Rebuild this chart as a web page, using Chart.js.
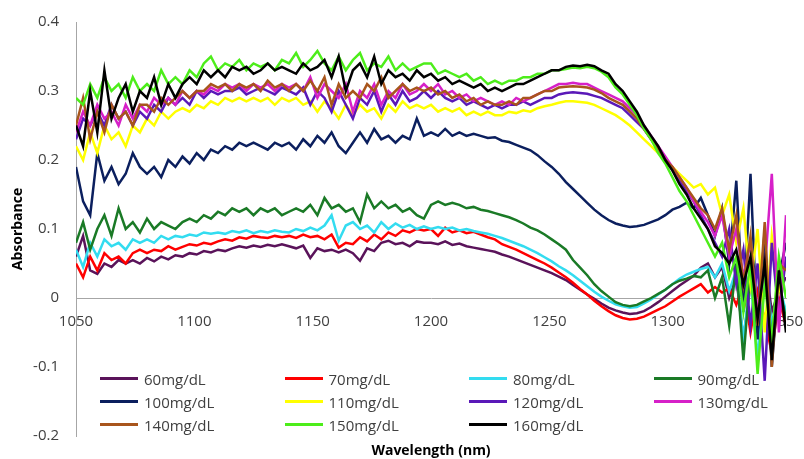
<!DOCTYPE html>
<html>
<head>
<meta charset="utf-8">
<script src="https://cdn.jsdelivr.net/npm/chart.js@4.4.1/dist/chart.umd.min.js"></script>
<style>
  body { margin: 0; background: #fff; }
  #wrap { position: relative; width: 804px; height: 459px; }
  #legend {
    position: absolute; left: 100px; top: 367px;
    display: grid; grid-template-columns: repeat(4, 184.5px); grid-auto-rows: 23px;
    font: 15px "Open Sans", sans-serif; color: #404040;
  }
  .item { display: flex; align-items: center; white-space: nowrap; }
  .swatch { width: 38px; height: 3px; margin-right: 6px; }
</style>
</head>
<body>
<div id="wrap">
  <canvas id="chart" width="804" height="459"></canvas>
  <div id="legend"></div>
</div>
<script>
// wavelength (nm), every 3 nm
const wavelengths = [
  1050, 1053, 1056, 1059, 1062, 1065, 1068, 1071, 1074, 1077,
  1080, 1083, 1086, 1089, 1092, 1095, 1098, 1101, 1104, 1107,
  1110, 1113, 1116, 1119, 1122, 1125, 1128, 1131, 1134, 1137,
  1140, 1143, 1146, 1149, 1152, 1155, 1158, 1161, 1164, 1167,
  1170, 1173, 1176, 1179, 1182, 1185, 1188, 1191, 1194, 1197,
  1200, 1203, 1206, 1209, 1212, 1215, 1218, 1221, 1224, 1227,
  1230, 1233, 1236, 1239, 1242, 1245, 1248, 1251, 1254, 1257,
  1260, 1263, 1266, 1269, 1272, 1275, 1278, 1281, 1284, 1287,
  1290, 1293, 1296, 1299, 1302, 1305, 1308, 1311, 1314, 1317,
  1320, 1323, 1326, 1329, 1332, 1335, 1338, 1341, 1344, 1347,
  1350
];

const abs60 = [
  0.06, 0.09, 0.04, 0.035, 0.05, 0.045, 0.055, 0.05, 0.055, 0.05,
  0.058, 0.053, 0.06, 0.056, 0.062, 0.06, 0.065, 0.063, 0.068, 0.066,
  0.07, 0.068, 0.072, 0.075, 0.073, 0.076, 0.074, 0.077, 0.075, 0.078,
  0.075, 0.072, 0.076, 0.058, 0.072, 0.068, 0.07, 0.066, 0.07, 0.065,
  0.054, 0.072, 0.068, 0.08, 0.083, 0.078, 0.08, 0.075, 0.082, 0.08,
  0.08, 0.078, 0.082, 0.077, 0.079, 0.075, 0.073, 0.071, 0.069, 0.067,
  0.063, 0.06, 0.056, 0.052, 0.048, 0.044, 0.04, 0.036, 0.031, 0.026,
  0.019, 0.012, 0.005, -0.001, -0.008, -0.014, -0.018, -0.021, -0.023, -0.022,
  -0.019, -0.013, -0.006, 0.002, 0.01, 0.018, 0.025, 0.032, 0.044, 0.05,
  0.03, 0.045, 0.0, 0.03, -0.06, 0.02, -0.03, 0.06, -0.02, 0.01,
  0.03
];

const abs70 = [
  0.05, 0.03, 0.06, 0.04, 0.065, 0.055, 0.06, 0.05, 0.065, 0.07,
  0.065, 0.07, 0.068, 0.075, 0.07, 0.074, 0.078, 0.076, 0.08, 0.078,
  0.082, 0.085, 0.083, 0.088, 0.086, 0.09, 0.088, 0.087, 0.09, 0.088,
  0.09, 0.087, 0.092, 0.088, 0.09, 0.085, 0.092, 0.073, 0.08, 0.078,
  0.088, 0.082, 0.092, 0.085, 0.095, 0.09, 0.098, 0.095, 0.1, 0.098,
  0.1, 0.09, 0.102, 0.095, 0.098, 0.094, 0.096, 0.092, 0.088, 0.085,
  0.078, 0.074, 0.07, 0.065, 0.06, 0.055, 0.05, 0.044, 0.037, 0.03,
  0.022, 0.013, 0.005, -0.004, -0.012, -0.019, -0.025, -0.029, -0.031, -0.03,
  -0.027, -0.022, -0.017, -0.012, -0.005, 0.002, 0.008, 0.014, 0.02, 0.008,
  0.016, 0.008, 0.014, -0.01, 0.02, -0.05, 0.01, -0.03, -0.08, 0.0,
  -0.04
];

const abs80 = [
  0.07, 0.045, 0.08, 0.06, 0.085, 0.075, 0.08, 0.07, 0.085, 0.08,
  0.085, 0.08, 0.09, 0.085, 0.09, 0.088, 0.092, 0.09, 0.095, 0.093,
  0.095, 0.093, 0.097, 0.095, 0.098, 0.094, 0.097, 0.095, 0.098, 0.096,
  0.095, 0.1, 0.097, 0.102, 0.098, 0.105, 0.12, 0.083, 0.105, 0.11,
  0.1, 0.105, 0.095, 0.11, 0.1, 0.108, 0.102, 0.106, 0.1, 0.104,
  0.1, 0.103, 0.1, 0.102, 0.098, 0.1, 0.097, 0.095, 0.093, 0.09,
  0.087, 0.083, 0.079, 0.075, 0.07, 0.065, 0.059, 0.053, 0.046, 0.04,
  0.033, 0.025, 0.017, 0.009, 0.002, -0.004, -0.009, -0.012, -0.014, -0.013,
  -0.008, -0.002, 0.005, 0.012, 0.02, 0.028, 0.034, 0.038, 0.042, 0.045,
  0.03, 0.05, 0.01, 0.04, -0.06, 0.03, -0.09, 0.05, -0.04, 0.02,
  -0.02
];

const abs90 = [
  0.08, 0.11, 0.07, 0.10, 0.12, 0.09, 0.13, 0.10, 0.11, 0.095,
  0.115, 0.10, 0.11, 0.105, 0.10, 0.11, 0.115, 0.11, 0.12, 0.115,
  0.125, 0.12, 0.13, 0.125, 0.13, 0.12, 0.13, 0.125, 0.13, 0.12,
  0.125, 0.13, 0.125, 0.135, 0.12, 0.145, 0.13, 0.135, 0.125, 0.13,
  0.11, 0.15, 0.13, 0.14, 0.13, 0.135, 0.125, 0.13, 0.12, 0.115,
  0.135, 0.14, 0.135, 0.138, 0.135, 0.13, 0.132, 0.128, 0.126, 0.123,
  0.12, 0.117, 0.113, 0.108, 0.102, 0.098, 0.092, 0.085, 0.078, 0.07,
  0.055, 0.044, 0.033, 0.02, 0.01, 0.002, -0.006, -0.01, -0.012, -0.01,
  -0.005, 0.0, 0.006, 0.012, 0.02, 0.025, 0.028, 0.032, 0.03, 0.04,
  0.0, 0.03, -0.04, 0.05, -0.09, 0.04, -0.05, 0.08, -0.07, 0.02,
  -0.03
];

const abs100 = [
  0.19, 0.14, 0.12, 0.21, 0.17, 0.19, 0.165, 0.18, 0.21, 0.19,
  0.18, 0.19, 0.175, 0.20, 0.19, 0.205, 0.195, 0.21, 0.20, 0.215,
  0.21, 0.22, 0.215, 0.225, 0.22, 0.225, 0.22, 0.215, 0.225, 0.22,
  0.225, 0.215, 0.23, 0.22, 0.235, 0.225, 0.24, 0.22, 0.21, 0.225,
  0.24, 0.225, 0.245, 0.23, 0.235, 0.225, 0.235, 0.23, 0.26, 0.235,
  0.24, 0.235, 0.245, 0.235, 0.24, 0.235, 0.238, 0.235, 0.232, 0.233,
  0.228, 0.226, 0.222, 0.218, 0.214, 0.207, 0.198, 0.19, 0.18, 0.168,
  0.158, 0.148, 0.138, 0.128, 0.12, 0.113, 0.108, 0.105, 0.103, 0.104,
  0.106, 0.11, 0.114, 0.12, 0.128, 0.132, 0.138, 0.13, 0.145, 0.12,
  0.09, 0.13, 0.05, 0.17, -0.02, 0.18, -0.06, 0.10, -0.10, 0.03,
  0.08
];

const abs110 = [
  0.22, 0.20, 0.24, 0.21, 0.25, 0.23, 0.24, 0.22, 0.25, 0.24,
  0.26, 0.25, 0.27, 0.26, 0.27, 0.275, 0.27, 0.28, 0.275, 0.285,
  0.28, 0.29, 0.285, 0.29, 0.285, 0.29, 0.285, 0.29, 0.28, 0.29,
  0.285, 0.29, 0.28, 0.285, 0.27, 0.285, 0.275, 0.26, 0.28, 0.265,
  0.28, 0.27, 0.275, 0.26, 0.28, 0.27, 0.285, 0.275, 0.28, 0.275,
  0.28, 0.27, 0.275, 0.27, 0.275, 0.265, 0.27, 0.265, 0.27, 0.265,
  0.265, 0.27, 0.268, 0.272, 0.27, 0.275, 0.278, 0.28, 0.283, 0.285,
  0.285, 0.284, 0.283, 0.28, 0.275, 0.27, 0.265, 0.258, 0.25, 0.24,
  0.23, 0.22, 0.21, 0.20, 0.19, 0.18, 0.17, 0.16, 0.165, 0.15,
  0.16, 0.12, 0.15, 0.08, 0.13, 0.02, 0.10, -0.05, 0.09, 0.01,
  0.05
];

const abs120 = [
  0.23, 0.26, 0.25, 0.27, 0.25, 0.28, 0.26, 0.27, 0.25, 0.27,
  0.26, 0.28, 0.27, 0.29, 0.28, 0.29, 0.28, 0.30, 0.29, 0.30,
  0.295, 0.30, 0.30, 0.305, 0.295, 0.30, 0.305, 0.30, 0.295, 0.305,
  0.30, 0.295, 0.305, 0.28, 0.30, 0.29, 0.27, 0.30, 0.28, 0.26,
  0.29, 0.28, 0.30, 0.27, 0.295, 0.28, 0.30, 0.285, 0.29, 0.30,
  0.29, 0.30, 0.29, 0.285, 0.29, 0.28, 0.285, 0.28, 0.275, 0.28,
  0.275, 0.28, 0.28, 0.285, 0.28, 0.285, 0.29, 0.29, 0.295, 0.297,
  0.298, 0.297, 0.296, 0.293, 0.29, 0.285, 0.28, 0.275, 0.265, 0.255,
  0.245, 0.23, 0.215, 0.20, 0.185, 0.17, 0.155, 0.14, 0.12, 0.10,
  0.08, 0.06, 0.10, 0.02, 0.07, -0.04, 0.05, -0.12, 0.08, -0.03,
  0.06
];

const abs130 = [
  0.24, 0.27, 0.25, 0.28, 0.26, 0.27, 0.25, 0.28, 0.26, 0.28,
  0.27, 0.29, 0.28, 0.29, 0.28, 0.30, 0.29, 0.30, 0.295, 0.305,
  0.30, 0.31, 0.305, 0.31, 0.30, 0.31, 0.305, 0.31, 0.30, 0.31,
  0.305, 0.31, 0.30, 0.32, 0.29, 0.31, 0.30, 0.29, 0.31, 0.27,
  0.30, 0.29, 0.31, 0.28, 0.30, 0.29, 0.31, 0.295, 0.30, 0.31,
  0.30, 0.31, 0.295, 0.30, 0.29, 0.295, 0.285, 0.29, 0.285, 0.28,
  0.285, 0.28, 0.29, 0.285, 0.29, 0.295, 0.30, 0.305, 0.31, 0.31,
  0.312, 0.31, 0.31, 0.305, 0.30, 0.295, 0.29, 0.285, 0.275, 0.265,
  0.25, 0.235, 0.22, 0.205, 0.19, 0.175, 0.16, 0.14, 0.125, 0.11,
  0.09, 0.12, 0.06, 0.10, 0.03, 0.08, -0.02, 0.04, 0.18, -0.05,
  0.12
];

const abs140 = [
  0.25, 0.29, 0.23, 0.27, 0.24, 0.28, 0.26, 0.27, 0.25, 0.28,
  0.28, 0.27, 0.29, 0.28, 0.29, 0.30, 0.29, 0.30, 0.30, 0.31,
  0.305, 0.31, 0.30, 0.31, 0.305, 0.31, 0.30, 0.315, 0.305, 0.31,
  0.30, 0.31, 0.30, 0.315, 0.30, 0.32, 0.28, 0.31, 0.29, 0.30,
  0.29, 0.31, 0.30, 0.32, 0.29, 0.30, 0.31, 0.30, 0.305, 0.30,
  0.305, 0.295, 0.30, 0.29, 0.295, 0.285, 0.29, 0.28, 0.285, 0.28,
  0.28, 0.285, 0.28, 0.29, 0.29, 0.295, 0.30, 0.30, 0.305, 0.306,
  0.307, 0.306, 0.305, 0.302, 0.297, 0.29, 0.285, 0.28, 0.27, 0.26,
  0.245, 0.23, 0.215, 0.20, 0.19, 0.175, 0.16, 0.145, 0.13, 0.12,
  0.10, 0.13, 0.07, 0.12, 0.02, 0.09, -0.04, 0.11, -0.10, 0.05,
  0.04
];

const abs150 = [
  0.29, 0.28, 0.31, 0.29, 0.32, 0.30, 0.31, 0.29, 0.32, 0.30,
  0.31, 0.30, 0.33, 0.31, 0.32, 0.31, 0.33, 0.32, 0.34, 0.35,
  0.33, 0.34, 0.335, 0.345, 0.33, 0.34, 0.335, 0.34, 0.33, 0.345,
  0.34, 0.355, 0.335, 0.345, 0.358, 0.34, 0.33, 0.35, 0.33, 0.345,
  0.355, 0.33, 0.34, 0.335, 0.35, 0.33, 0.34, 0.33, 0.335, 0.34,
  0.34, 0.325, 0.33, 0.325, 0.32, 0.325, 0.315, 0.32, 0.31, 0.315,
  0.31, 0.315, 0.315, 0.32, 0.32, 0.325, 0.325, 0.33, 0.33, 0.332,
  0.334, 0.333, 0.335, 0.333, 0.328, 0.32, 0.305, 0.295, 0.28, 0.265,
  0.245, 0.23, 0.21, 0.195, 0.175, 0.155, 0.14, 0.12, 0.10, 0.08,
  0.06, 0.08, 0.03, 0.06, -0.02, 0.05, -0.11, 0.02, -0.06, 0.06,
  0.0
];

const abs160 = [
  0.25, 0.22, 0.30, 0.24, 0.33, 0.26, 0.29, 0.31, 0.27, 0.30,
  0.29, 0.32, 0.28, 0.31, 0.29, 0.31, 0.32, 0.31, 0.33, 0.32,
  0.33, 0.32, 0.335, 0.33, 0.335, 0.325, 0.33, 0.34, 0.33, 0.335,
  0.33, 0.325, 0.34, 0.33, 0.335, 0.345, 0.32, 0.35, 0.30, 0.33,
  0.34, 0.32, 0.35, 0.31, 0.33, 0.32, 0.325, 0.315, 0.33, 0.32,
  0.325, 0.315, 0.32, 0.31, 0.315, 0.31, 0.305, 0.31, 0.30, 0.305,
  0.30, 0.305, 0.31, 0.31, 0.315, 0.32, 0.325, 0.33, 0.33, 0.335,
  0.337, 0.336, 0.338, 0.336, 0.33, 0.325, 0.31, 0.30, 0.285, 0.27,
  0.25, 0.235, 0.22, 0.20, 0.185, 0.165, 0.15, 0.13, 0.115, 0.10,
  0.075, 0.065, 0.05, 0.07, 0.02, 0.06, -0.03, 0.05, -0.09, 0.04,
  -0.05
];

const seriesLabels = ["60mg/dL", "70mg/dL", "80mg/dL", "90mg/dL", "100mg/dL", "110mg/dL",
  "120mg/dL", "130mg/dL", "140mg/dL", "150mg/dL", "160mg/dL"];
const seriesValues = [abs60, abs70, abs80, abs90, abs100, abs110, abs120, abs130, abs140, abs150, abs160];
const seriesColors = ["#5a135a", "#ff0000", "#33dcf0", "#1a7a26", "#0b1f5e", "#ffff00",
  "#5a18b8", "#d620c8", "#a8551c", "#4ded1a", "#000000"];

const fontFam = "'Open Sans', sans-serif";

const datasets = seriesLabels.map((label, i) => ({
  label: label,
  data: seriesValues[i].map((v, j) => ({ x: wavelengths[j], y: v })),
  borderColor: seriesColors[i],
  backgroundColor: seriesColors[i],
  borderWidth: 2.5,
  pointRadius: 0,
  tension: 0,
  fill: false,
  order: seriesLabels.length - 1 - i
}));

// invisible tick marks push the labels away from the axis line
// (ticks.padding would also grow the layout padding)
const hiddenTicks = (len) => ({
  display: true, drawOnChartArea: false, drawTicks: true,
  tickLength: len, tickColor: "rgba(0,0,0,0)"
});

new Chart(document.getElementById("chart"), {
  type: "line",
  data: { datasets: datasets },
  options: {
    responsive: false,
    animation: false,
    layout: { padding: { top: 22, right: 18, left: 0, bottom: 0 } },
    plugins: { legend: { display: false }, tooltip: { enabled: false } },
    scales: {
      x: {
        type: "linear", min: 1050, max: 1350,
        position: { y: 0 },
        grid: hiddenTicks(15),
        border: { color: "#a6a6a6" },
        ticks: {
          stepSize: 50, padding: 0, maxRotation: 0, color: "#404040",
          font: { family: fontFam, size: 15 },
          callback: (v) => String(v)
        }
      },
      x2: {
        type: "linear", min: 1050, max: 1350,
        position: "bottom",
        grid: { display: false },
        border: { display: false },
        ticks: { display: false },
        title: {
          display: true, text: "Wavelength (nm)", color: "#000",
          font: { family: fontFam, size: 14, weight: "bold" },
          padding: { top: 5, bottom: 0 }
        },
        afterFit: (s) => { s.height = 23; }
      },
      y: {
        min: -0.2, max: 0.4,
        position: "left",
        grid: hiddenTicks(14),
        border: { color: "#a6a6a6" },
        ticks: {
          stepSize: 0.1, padding: 3, color: "#404040",
          font: { family: fontFam, size: 15 },
          callback: (v) => String(Math.round(v * 10) / 10)
        },
        title: {
          display: true, text: "Absorbance", color: "#000",
          font: { family: fontFam, size: 14, weight: "bold" },
          padding: { top: 10, bottom: 0 }
        },
        afterFit: (s) => { s.width = 76; }
      }
    }
  }
});

// legend laid out in four columns inside the plot, like the original
const legendBox = document.getElementById("legend");
seriesLabels.forEach((label, i) => {
  const item = document.createElement("div");
  item.className = "item";
  item.innerHTML = '<span class="swatch" style="background:' + seriesColors[i] + '"></span>' + label;
  legendBox.appendChild(item);
});
</script>
</body>
</html>
